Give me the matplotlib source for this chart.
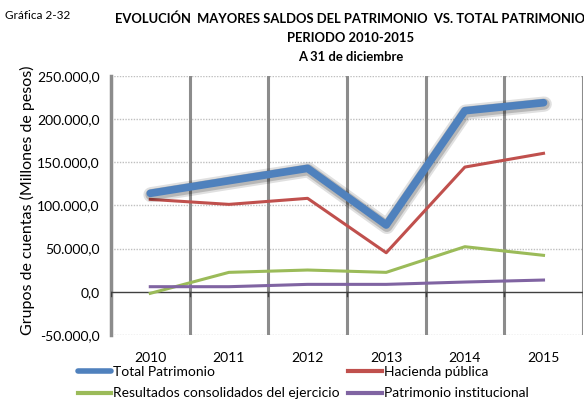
import matplotlib
matplotlib.use("Agg")
import matplotlib.pyplot as plt
import matplotlib.patheffects as pe
from matplotlib.ticker import FuncFormatter, FixedLocator
from matplotlib.lines import Line2D

plt.rcParams['font.family'] = ['Lato', 'DejaVu Sans']

years = ["2010", "2011", "2012", "2013", "2014", "2015"]
total = [113900, 128500, 142800, 77200, 209500, 218800]
hacienda = [106900, 101100, 108100, 45100, 144300, 160200]
resultados = [-1900, 22400, 25100, 22400, 52100, 42100]
institucional = [5800, 5800, 8500, 8500, 11200, 13500]

fig = plt.figure(figsize=(5.84, 4.03), dpi=100)
ax = fig.add_axes([0.190, 0.169, 0.808, 0.643])

x = list(range(len(years)))
ax.plot(x, hacienda, color="#C0504D", lw=2.2, zorder=4)
ax.plot(x, resultados, color="#9BBB59", lw=2.2, zorder=4)
ax.plot(x, institucional, color="#8064A2", lw=2.2, zorder=4)
ax.plot(x, total, color="#4F81BD", lw=5.5, zorder=5, solid_capstyle="round",
        path_effects=[pe.SimpleLineShadow(offset=(0.5, -1), shadow_color="black", alpha=0.12, linewidth=11),
                      pe.SimpleLineShadow(offset=(0.5, -1), shadow_color="black", alpha=0.18, linewidth=8),
                      pe.Normal()])

ax.set_xlim(-0.5, 5.5)
ax.set_ylim(-50000, 250000)
ax.yaxis.set_major_locator(FixedLocator([-50000, 0, 50000, 100000, 150000, 200000, 250000]))

def fmt(v, pos):
    s = f"{abs(v):,.1f}".replace(",", "X").replace(".", ",").replace("X", ".")
    return ("-" if v < 0 else "") + s
ax.yaxis.set_major_formatter(FuncFormatter(fmt))

for yv in [-50000, 50000, 100000, 150000, 200000, 250000]:
    ax.axhline(yv, color="#BFBFBF", lw=1.0, ls=(0, (1, 1)), zorder=1)
for b in [0.5, 1.5, 2.5, 3.5, 4.5, 5.5]:
    ax.axvline(b, color="#8C8C8C", lw=2.2, zorder=2)
ax.axhline(0, color="#404040", lw=1.0, zorder=3)
for b in [-0.5, 0.5, 1.5, 2.5, 3.5, 4.5, 5.5]:
    ax.plot([b, b], [0, -4500], color="#404040", lw=1.0, zorder=3)

for s in ["top", "right", "bottom"]:
    ax.spines[s].set_visible(False)
ax.spines["left"].set_color("#8C8C8C")
ax.spines["left"].set_linewidth(2.5)

ax.set_xticks(x)
ax.set_xticklabels(years, fontsize=10)
ax.tick_params(axis="x", length=0, pad=12)
ax.tick_params(axis="y", length=0, labelsize=10, pad=8)

ax.set_ylabel("Grupos de cuentas (Millones de pesos)", fontsize=11.5)
ax.yaxis.set_label_coords(-0.162, 0.52)

fig.text(0.008, 0.962, "Gráfica 2-32", fontsize=8.5, ha="left", va="center")
fig.text(0.600, 0.953, "EVOLUCIÓN  MAYORES SALDOS DEL PATRIMONIO  VS. TOTAL PATRIMONIO",
         fontsize=9.4, fontweight="bold", ha="center", va="center")
fig.text(0.600, 0.906, "PERIODO 2010-2015", fontsize=9.4, fontweight="bold", ha="center", va="center")
fig.text(0.600, 0.858, "A 31 de diciembre", fontsize=9.4, fontweight="bold", ha="center", va="center")

handles = [Line2D([], [], color="#4F81BD", lw=4, solid_capstyle="round"),
           Line2D([], [], color="#9BBB59", lw=3),
           Line2D([], [], color="#C0504D", lw=3),
           Line2D([], [], color="#8064A2", lw=3)]
labels = ["Total Patrimonio", "Resultados consolidados del ejercicio",
          "Hacienda pública", "Patrimonio institucional"]
fig.legend(handles, labels, ncol=2, loc="center left", bbox_to_anchor=(0.112, 0.050),
           frameon=False, fontsize=10, handlelength=2.4, handletextpad=0.15,
           columnspacing=0.6, labelspacing=0.65)

fig.savefig("out.png", dpi=100)
